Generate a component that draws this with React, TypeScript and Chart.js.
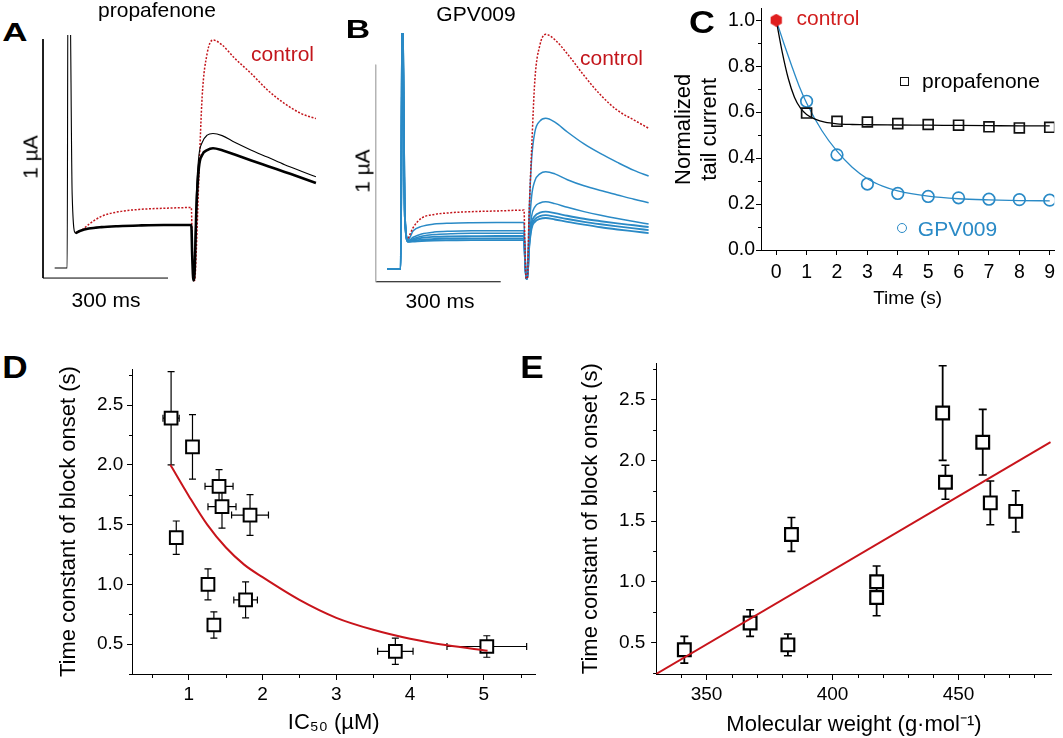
import React, { useEffect, useRef } from 'react';
import { Chart, registerables } from 'chart.js';

Chart.register(...registerables);

const FONT = '"Liberation Sans", Arial, Helvetica, sans-serif';
const RED = '#c3161c';
const RED_FIT = '#c8141b';
const BLUE = '#2a8ac6';

// ---------- Panels A & B: current sweeps (time in ms, current in µA) ----------
const sweepTime = [28, 58, 60, 64, 70, 78, 90, 110, 140, 180, 230, 290, 356, 358, 361, 364, 368, 374, 382, 394, 408, 430, 460, 500, 540, 580, 620, 655];

const propafenoneControl = [null, null, null, null, null, 0.19, 0.197, 0.225, 0.258, 0.277, 0.287, 0.292, 0.295, 0.15, -0.01, -0.01, 0.12, 0.42, 0.76, 0.94, 0.996, 0.975, 0.92, 0.855, 0.785, 0.73, 0.688, 0.667];
const propafenoneFirst = [0.042, 0.042, 1.3, 1.3, 0.35, 0.188, 0.198, 0.207, 0.213, 0.217, 0.22, 0.222, 0.222, 0.1, -0.01, 0.08, 0.35, 0.51, 0.567, 0.598, 0.605, 0.596, 0.568, 0.535, 0.505, 0.474, 0.447, 0.424];
const propafenoneLater = [null, null, null, null, null, 0.188, 0.198, 0.207, 0.213, 0.217, 0.22, 0.222, 0.222, 0.1, -0.01, 0.03, 0.28, 0.46, 0.515, 0.535, 0.543, 0.535, 0.517, 0.492, 0.468, 0.444, 0.42, 0.398];

const gpvControl = [null, null, null, null, null, 0.2, 0.25, 0.293, 0.31, 0.318, 0.323, 0.326, 0.33, 0.17, 0.015, 0.015, 0.3, 0.6, 0.93, 1.09, 1.14, 1.115, 1.05, 0.95, 0.86, 0.79, 0.745, 0.707];
const gpvPulse1 = [0.0585, 0.0585, 0.0585, 1.3, 0.3, 0.195, 0.235, 0.255, 0.266, 0.27, 0.272, 0.273, 0.273, 0.14, 0.015, 0.015, 0.3, 0.56, 0.69, 0.74, 0.753, 0.735, 0.69, 0.635, 0.59, 0.55, 0.513, 0.487];
const gpvPulse2 = [0.0585, 0.0585, 0.0585, 1.3, 0.3, 0.19, 0.205, 0.22, 0.229, 0.233, 0.235, 0.235, 0.235, 0.12, 0.015, 0.015, 0.22, 0.39, 0.465, 0.497, 0.507, 0.497, 0.47, 0.442, 0.42, 0.4, 0.38, 0.364];
const gpvPulse3 = [0.0585, 0.0585, 0.0585, 1.3, 0.3, 0.188, 0.198, 0.21, 0.218, 0.221, 0.223, 0.223, 0.223, 0.12, 0.015, 0.015, 0.18, 0.3, 0.345, 0.363, 0.369, 0.36, 0.343, 0.323, 0.306, 0.291, 0.278, 0.266];
const gpvPulse4 = [0.0585, 0.0585, 0.0585, 1.3, 0.3, 0.186, 0.193, 0.202, 0.207, 0.209, 0.21, 0.211, 0.211, 0.12, 0.015, 0.015, 0.17, 0.27, 0.303, 0.318, 0.323, 0.316, 0.304, 0.29, 0.279, 0.269, 0.26, 0.252];
const gpvPulse5 = [0.0585, 0.0585, 0.0585, 1.3, 0.3, 0.185, 0.188, 0.194, 0.197, 0.199, 0.2, 0.2, 0.2, 0.12, 0.015, 0.015, 0.16, 0.255, 0.288, 0.302, 0.307, 0.3, 0.289, 0.276, 0.265, 0.255, 0.246, 0.238];
const gpvPulse6 = [0.0585, 0.0585, 0.0585, 1.3, 0.3, 0.184, 0.185, 0.188, 0.19, 0.191, 0.192, 0.192, 0.192, 0.12, 0.015, 0.015, 0.15, 0.245, 0.276, 0.29, 0.294, 0.287, 0.276, 0.263, 0.251, 0.241, 0.232, 0.224];

const scaleBarMs = 300;
const scaleBarMicroA = 1;
const sweepRangeA = { t: [-16.8, 679.2], i: [-0.05, 1.017] };
const sweepRangeB = { t: [-18.5, 677.5], i: [-0.038, 1.146] };

// ---------- Panel C: normalized tail current vs time ----------
const pulseTime = [1, 2, 3, 4, 5, 6, 7, 8, 9];
const propafenoneTail = [0.596, 0.56, 0.557, 0.55, 0.546, 0.543, 0.536, 0.531, 0.534];
const gpv009Tail = [0.647, 0.414, 0.287, 0.246, 0.233, 0.227, 0.221, 0.219, 0.217];
const controlTime = [0];
const controlTail = [1.0];
const propFitTime = [0, 0.2, 0.4, 0.6, 0.8, 1.0, 1.3, 1.6, 2, 2.5, 3, 4, 5, 6, 7, 8, 9];
const propFitValue = [1.0, 0.86, 0.745, 0.665, 0.617, 0.59, 0.568, 0.556, 0.549, 0.546, 0.545, 0.544, 0.543, 0.542, 0.541, 0.54, 0.54];
const gpvFitTime = [0, 0.25, 0.5, 0.75, 1, 1.5, 2, 2.5, 3, 3.5, 4, 5, 6, 7, 8, 9];
const gpvFitValue = [1.0, 0.9, 0.805, 0.715, 0.64, 0.52, 0.43, 0.36, 0.31, 0.278, 0.257, 0.234, 0.223, 0.218, 0.215, 0.214];
const cTimeTicks = [0, 1, 2, 3, 4, 5, 6, 7, 8, 9];
const cTailTicks = [0, 0.2, 0.4, 0.6, 0.8, 1.0];
const cTailMinor = [0.1, 0.3, 0.5, 0.7, 0.9];

// ---------- Panels D & E: per-compound values ----------
const ic50 = [0.76, 1.05, 1.41, 1.45, 1.83, 0.83, 1.26, 1.77, 1.34, 3.8, 5.04];
const ic50Err = [0.11, 0, 0.19, 0.19, 0.25, 0, 0, 0.16, 0, 0.24, 0.54];
const molWeight = [443.7, 459.6, 444.8, 462.6, 472.7, 383.7, 417.5, 417.5, 367.3, 341.2, 382.3];
const tauOnset = [2.39, 2.15, 1.82, 1.65, 1.58, 1.39, 1.0, 0.87, 0.66, 0.44, 0.48];
const tauOnsetErr = [0.39, 0.27, 0.14, 0.18, 0.17, 0.14, 0.13, 0.15, 0.11, 0.11, 0.09];
const ic50FitX = [0.75, 1.0, 1.25, 1.5, 1.75, 2.0, 2.5, 3.0, 3.5, 4.0, 4.5, 5.05];
const ic50FitY = [2.0, 1.74, 1.5, 1.31, 1.165, 1.06, 0.87, 0.72, 0.62, 0.545, 0.49, 0.445];
const mwFitX = [330, 486.5];
const mwFitY = [0.24, 2.15];
const tauTicks = [0.5, 1.0, 1.5, 2.0, 2.5];
const tauMinor = [0.25, 0.75, 1.25, 1.75, 2.25, 2.75];
const ic50Ticks = [1, 2, 3, 4, 5];
const ic50Minor = [0.5, 1.5, 2.5, 3.5, 4.5, 5.5];
const mwTicks = [350, 400, 450];
const mwMinor = [340, 360, 370, 380, 390, 410, 420, 430, 440, 460, 470, 480];

// ---------- helpers ----------
const xy = (xs: number[], ys: (number | null)[]) => xs.map((x, i) => ({ x, y: ys[i] }));
const vBars = (xs: number[], ys: number[], e: number[]) =>
  xs.flatMap((x, i) => (e[i] > 0 ? [{ x, y: ys[i] - e[i] }, { x, y: ys[i] + e[i] }, { x, y: null }] : []));
const vCaps = (xs: number[], ys: number[], e: number[]) =>
  xs.flatMap((x, i) => (e[i] > 0 ? [{ x, y: ys[i] - e[i] }, { x, y: ys[i] + e[i] }] : []));
const hBars = (xs: number[], ys: number[], e: number[]) =>
  xs.flatMap((x, i) => (e[i] > 0 ? [{ x: x - e[i], y: ys[i] }, { x: x + e[i], y: ys[i] }, { x, y: null }] : []));
const hCaps = (xs: number[], ys: number[], e: number[]) =>
  xs.flatMap((x, i) => (e[i] > 0 ? [{ x: x - e[i], y: ys[i] }, { x: x + e[i], y: ys[i] }] : []));

const fixY = (w: number) => (s: any) => { s.width = w; s.paddingTop = 0; s.paddingBottom = 0; };
const fixX = (h: number) => (s: any) => { s.height = h; s.paddingLeft = 0; s.paddingRight = 0; };
const setTicks = (vals: number[]) => (s: any) => { s.ticks = vals.map((v) => ({ value: v })); };

const minorTicks = {
  id: 'minorTicks',
  afterDraw(chart: any, _args: any, opts: any) {
    const { ctx } = chart;
    ['x', 'y'].forEach((id) => {
      const cfg = opts && opts[id];
      const s = chart.scales[id];
      if (!cfg || !s) return;
      ctx.save();
      ctx.strokeStyle = '#000';
      ctx.lineWidth = 1;
      cfg.values.forEach((v: number) => {
        const p = Math.round(s.getPixelForValue(v)) + 0.5;
        ctx.beginPath();
        if (id === 'x') { ctx.moveTo(p, s.top); ctx.lineTo(p, s.top + cfg.len); }
        else { ctx.moveTo(s.right, p); ctx.lineTo(s.right - cfg.len, p); }
        ctx.stroke();
      });
      ctx.restore();
    });
  },
};

function hexagonMarker(size: number, color: string) {
  const c = document.createElement('canvas');
  c.width = size; c.height = size;
  const g = c.getContext('2d')!;
  const r = size / 2;
  g.fillStyle = color;
  g.beginPath();
  for (let k = 0; k < 6; k++) {
    const a = -Math.PI / 2 + (k * Math.PI) / 3;
    const px = r + r * Math.cos(a);
    const py = r + r * Math.sin(a);
    if (k === 0) g.moveTo(px, py); else g.lineTo(px, py);
  }
  g.closePath();
  g.fill();
  return c;
}

const baseOptions = () => ({
  animation: false as const,
  responsive: false,
  devicePixelRatio: 1,
  events: [] as any[],
  plugins: { legend: { display: false }, tooltip: { enabled: false } },
  elements: { point: { radius: 0 } },
});

function sweepChart(canvas: HTMLCanvasElement, datasets: any[], range: { t: number[]; i: number[] }) {
  return new Chart(canvas, {
    type: 'line',
    data: { datasets },
    options: {
      ...baseOptions(),
      layout: { padding: 0 },
      elements: { point: { radius: 0 }, line: { cubicInterpolationMode: 'monotone' } },
      scales: {
        x: { type: 'linear', display: false, min: range.t[0], max: range.t[1] },
        y: { type: 'linear', display: false, min: range.i[0], max: range.i[1] },
      },
    } as any,
  });
}

const axisStyle = (tickLength: number) => ({
  grid: { drawOnChartArea: false, drawTicks: true, tickLength, color: '#000', lineWidth: 1 },
  border: { display: true, color: '#000', width: 1 },
});

function Label(props: { x: number; y: number; extra?: string; style?: React.CSSProperties; children: React.ReactNode }) {
  const { x, y, extra = '', style = {}, children } = props;
  return (
    <div
      style={{
        position: 'absolute', left: x, top: y, transform: `translate(-50%, -50%) ${extra}`,
        whiteSpace: 'nowrap', lineHeight: 1, fontSize: 21, ...style,
      }}
    >
      {children}
    </div>
  );
}

export default function App() {
  const refA = useRef<HTMLCanvasElement>(null);
  const refB = useRef<HTMLCanvasElement>(null);
  const refC = useRef<HTMLCanvasElement>(null);
  const refD = useRef<HTMLCanvasElement>(null);
  const refE = useRef<HTMLCanvasElement>(null);

  useEffect(() => {
    const charts: Chart[] = [];

    // ---- A ----
    charts.push(
      sweepChart(refA.current!, [
        { data: xy(sweepTime, propafenoneLater), borderColor: '#000', borderWidth: 2.6, order: 0 },
        { data: xy(sweepTime, propafenoneFirst), borderColor: '#000', borderWidth: 1.1, order: 1 },
        { data: xy(sweepTime, propafenoneControl), borderColor: RED, borderWidth: 1.5, borderDash: [2, 1.6], order: 2 },
        {
          data: [{ x: 0, y: scaleBarMicroA }, { x: 0, y: 0 }, { x: scaleBarMs, y: 0 }],
          borderColor: '#000', borderWidth: 1, cubicInterpolationMode: 'default', tension: 0, order: 3,
        },
      ], sweepRangeA)
    );

    // ---- B ----
    const blues = [gpvPulse1, gpvPulse2, gpvPulse3, gpvPulse4, gpvPulse5, gpvPulse6];
    charts.push(
      sweepChart(refB.current!, [
        { data: xy(sweepTime, gpvControl), borderColor: RED, borderWidth: 1.5, borderDash: [2, 1.6], order: 0 },
        ...blues.map((b, k) => ({ data: xy(sweepTime, b), borderColor: BLUE, borderWidth: k >= 3 ? 1.9 : 1.5, order: 1 })),
        { data: [{ x: 0, y: scaleBarMicroA }, { x: 0, y: 0 }], borderColor: '#b4b4b4', borderWidth: 1, tension: 0, cubicInterpolationMode: 'default', order: 3 },
        { data: [{ x: 0, y: 0 }, { x: scaleBarMs, y: 0 }], borderColor: '#000', borderWidth: 1, tension: 0, cubicInterpolationMode: 'default', order: 3 },
      ], sweepRangeB)
    );

    // ---- C ----
    charts.push(
      new Chart(refC.current!, {
        type: 'line',
        data: {
          datasets: [
            { data: xy(controlTime, controlTail), showLine: false, pointStyle: hexagonMarker(13, '#e01f1f'), pointRadius: 6.5, order: 0 },
            { data: xy(pulseTime, propafenoneTail), showLine: false, pointStyle: 'rect', pointRadius: 7, pointBorderWidth: 1.7, pointBorderColor: '#111', pointBackgroundColor: 'rgba(255,255,255,0)', order: 1 },
            { data: xy(pulseTime, gpv009Tail), showLine: false, pointStyle: 'circle', pointRadius: 5.8, pointBorderWidth: 1.7, pointBorderColor: BLUE, pointBackgroundColor: 'rgba(255,255,255,0)', order: 1 },
            { data: xy(propFitTime, propFitValue), borderColor: '#000', borderWidth: 1.3, cubicInterpolationMode: 'monotone', order: 2 },
            { data: xy(gpvFitTime, gpvFitValue), borderColor: BLUE, borderWidth: 1.3, cubicInterpolationMode: 'monotone', order: 2 },
          ],
        },
        options: {
          ...baseOptions(),
          layout: { padding: { left: 0, top: 5, right: 3, bottom: 0 } },
          plugins: { legend: { display: false }, tooltip: { enabled: false }, minorTicks: { y: { values: cTailMinor, len: 3 } } },
          scales: {
            x: {
              type: 'linear', min: -0.5, max: 9.15,
              afterBuildTicks: setTicks(cTimeTicks), afterFit: fixX(70),
              ...axisStyle(5),
              ticks: { font: { family: FONT, size: 19.5 }, color: '#000', padding: 6, maxRotation: 0, autoSkip: false, callback: (v: any) => String(v) },
              title: { display: true, text: 'Time (s)', font: { family: FONT, size: 19, lineHeight: 1.2 }, color: '#000', padding: { top: 0, bottom: 9.6 } },
            },
            y: {
              type: 'linear', min: 0, max: 1.05,
              afterBuildTicks: setTicks(cTailTicks), afterFit: fixY(101),
              ...axisStyle(5),
              ticks: { font: { family: FONT, size: 19.5 }, color: '#000', padding: 1, autoSkip: false, callback: (v: any) => Number(v).toFixed(1) },
              title: { display: true, text: ['Normalized', 'tail current'], font: { family: FONT, size: 22, lineHeight: 1.2 }, color: '#000', padding: { top: 10.3, bottom: 0 } },
            },
          },
        } as any,
        plugins: [minorTicks as any],
      })
    );

    // ---- D ----
    charts.push(
      new Chart(refD.current!, {
        type: 'line',
        data: {
          datasets: [
            { data: xy(ic50FitX, ic50FitY), borderColor: RED_FIT, borderWidth: 2, cubicInterpolationMode: 'monotone', order: 0 },
            { data: xy(ic50, tauOnset), showLine: false, pointStyle: 'rect', pointRadius: 9, pointBorderWidth: 2, pointBorderColor: '#000', pointBackgroundColor: '#fff', order: 1 },
            { data: vBars(ic50, tauOnset, tauOnsetErr), borderColor: '#000', borderWidth: 1.2, tension: 0, order: 2 },
            { data: vCaps(ic50, tauOnset, tauOnsetErr), showLine: false, pointStyle: 'line', pointRadius: 3.5, pointBorderWidth: 1.2, pointBorderColor: '#000', order: 2 },
            { data: hBars(ic50, tauOnset, ic50Err), borderColor: '#000', borderWidth: 1.2, tension: 0, order: 2 },
            { data: hCaps(ic50, tauOnset, ic50Err), showLine: false, pointStyle: 'line', pointRotation: 90, pointRadius: 3.5, pointBorderWidth: 1.2, pointBorderColor: '#000', order: 2 },
          ],
        },
        options: {
          ...baseOptions(),
          layout: { padding: { left: 0, top: 29.2, right: 14.5, bottom: 0 } },
          plugins: { legend: { display: false }, tooltip: { enabled: false }, minorTicks: { x: { values: ic50Minor, len: 4 }, y: { values: tauMinor, len: 3 } } },
          scales: {
            x: {
              type: 'linear', min: 0.23, max: 5.7,
              afterBuildTicks: setTicks(ic50Ticks), afterFit: fixX(64),
              ...axisStyle(6),
              ticks: { font: { family: FONT, size: 19 }, color: '#000', padding: 3.6, maxRotation: 0, autoSkip: false, callback: (v: any) => String(v) },
              title: { display: true, text: 'IC₅₀ (µM)', font: { family: FONT, size: 22, lineHeight: 1.2 }, color: '#000', padding: { top: 0, bottom: 2.3 } },
            },
            y: {
              type: 'linear', min: 0.25, max: 2.8,
              afterBuildTicks: setTicks(tauTicks), afterFit: fixY(92),
              ...axisStyle(5),
              ticks: { font: { family: FONT, size: 19 }, color: '#000', padding: 3.7, autoSkip: false, callback: (v: any) => Number(v).toFixed(1) },
              title: { display: true, text: 'Time constant of block onset (s)', font: { family: FONT, size: 22, lineHeight: 1.2 }, color: '#000', padding: { top: 15.7, bottom: 0 } },
            },
          },
        } as any,
        plugins: [minorTicks as any],
      })
    );

    // ---- E ----
    charts.push(
      new Chart(refE.current!, {
        type: 'line',
        data: {
          datasets: [
            { data: xy(mwFitX, mwFitY), borderColor: RED_FIT, borderWidth: 2, tension: 0, order: 0 },
            { data: xy(molWeight, tauOnset), showLine: false, pointStyle: 'rect', pointRadius: 9, pointBorderWidth: 2.2, pointBorderColor: '#000', pointBackgroundColor: '#fff', order: 1 },
            { data: vBars(molWeight, tauOnset, tauOnsetErr), borderColor: '#000', borderWidth: 1.8, tension: 0, order: 2 },
            { data: vCaps(molWeight, tauOnset, tauOnsetErr), showLine: false, pointStyle: 'line', pointRadius: 4, pointBorderWidth: 1.6, pointBorderColor: '#000', order: 2 },
          ],
        },
        options: {
          ...baseOptions(),
          layout: { padding: { left: 0, top: 23.3, right: 9.8, bottom: 0 } },
          plugins: { legend: { display: false }, tooltip: { enabled: false }, minorTicks: { x: { values: mwMinor, len: 4 }, y: { values: tauMinor, len: 3 } } },
          scales: {
            x: {
              type: 'linear', min: 330, max: 487,
              afterBuildTicks: setTicks(mwTicks), afterFit: fixX(64),
              ...axisStyle(6),
              ticks: { font: { family: FONT, size: 19 }, color: '#000', padding: 3.6, maxRotation: 0, autoSkip: false, callback: (v: any) => String(v) },
              title: { display: true, text: 'Molecular weight (g·mol⁻¹)', font: { family: FONT, size: 22, lineHeight: 1.2 }, color: '#000', padding: { top: 0, bottom: 0 } },
            },
            y: {
              type: 'linear', min: 0.24, max: 2.8,
              afterBuildTicks: setTicks(tauTicks), afterFit: fixY(96.1),
              ...axisStyle(5),
              ticks: { font: { family: FONT, size: 19 }, color: '#000', padding: 5.8, autoSkip: false, callback: (v: any) => Number(v).toFixed(1) },
              title: { display: true, text: 'Time constant of block onset (s)', font: { family: FONT, size: 22, lineHeight: 1.2 }, color: '#000', padding: { top: 17.8, bottom: 0 } },
            },
          },
        } as any,
        plugins: [minorTicks as any],
      })
    );

    return () => charts.forEach((c) => c.destroy());
  }, []);

  const letterStyle = (size: number): React.CSSProperties => ({ fontSize: size, fontWeight: 700 });

  return (
    <div style={{ position: 'absolute', left: 0, top: 0, width: 1063, height: 738, overflow: 'hidden', background: '#fff', fontFamily: FONT, color: '#000' }}>
      <canvas ref={refA} width={290} height={255} style={{ position: 'absolute', left: 36, top: 35 }} />
      <canvas ref={refB} width={290} height={257} style={{ position: 'absolute', left: 368, top: 33 }} />
      <canvas ref={refC} width={403} height={320} style={{ position: 'absolute', left: 660, top: 0 }} />
      <canvas ref={refD} width={510} height={398} style={{ position: 'absolute', left: 40, top: 340 }} />
      <canvas ref={refE} width={503} height={398} style={{ position: 'absolute', left: 560, top: 340 }} />

      <Label x={14.5} y={31.5} extra="scaleX(1.4)" style={letterStyle(25)}>A</Label>
      <Label x={358} y={29} extra="scaleX(1.35)" style={letterStyle(25)}>B</Label>
      <Label x={701.5} y={21.5} extra="scaleX(1.12)" style={letterStyle(32)}>C</Label>
      <Label x={14.6} y={366.7} extra="scaleX(1.1)" style={letterStyle(32)}>D</Label>
      <Label x={532} y={366.5} extra="scaleX(1.1)" style={letterStyle(32)}>E</Label>

      <Label x={157} y={8.5}>propafenone</Label>
      <Label x={476} y={12.5}>GPV009</Label>
      <Label x={282.5} y={53} style={{ color: RED }}>control</Label>
      <Label x={611.5} y={57} style={{ color: RED }}>control</Label>
      <Label x={30} y={157} extra="rotate(-90deg)">1 µA</Label>
      <Label x={362} y={171} extra="rotate(-90deg)">1 µA</Label>
      <Label x={106} y={299}>300 ms</Label>
      <Label x={440} y={300}>300 ms</Label>

      <Label x={828} y={17} style={{ color: '#d11d1d' }}>control</Label>
      <div style={{ position: 'absolute', left: 899.5, top: 77.2, width: 9, height: 9, boxSizing: 'border-box', border: '1.6px solid #111' }} />
      <Label x={981} y={80}>propafenone</Label>
      <div style={{ position: 'absolute', left: 896.7, top: 222.7, width: 10, height: 10, boxSizing: 'border-box', border: `1.6px solid ${BLUE}`, borderRadius: '50%' }} />
      <Label x={957.5} y={228} style={{ color: BLUE }}>GPV009</Label>
    </div>
  );
}
